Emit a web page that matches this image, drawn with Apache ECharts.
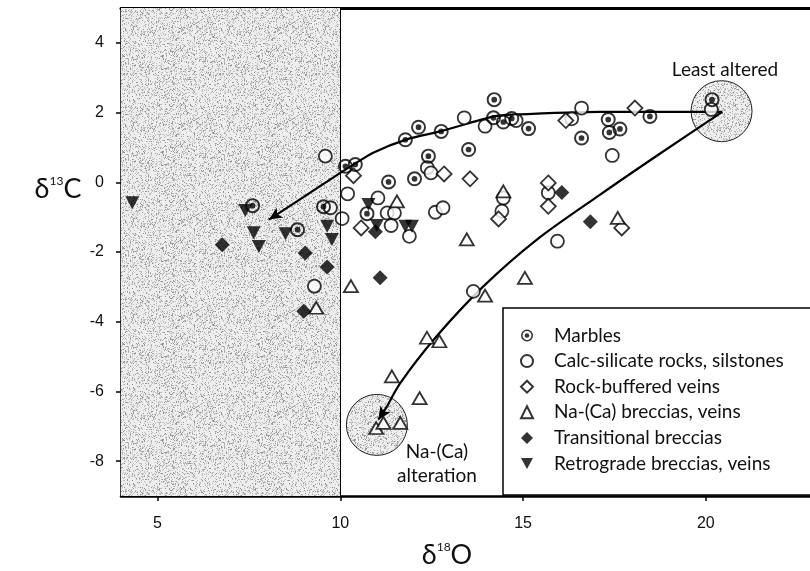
<!DOCTYPE html>
<html>
<head>
<meta charset="utf-8">
<script src="https://cdn.jsdelivr.net/npm/echarts@6/dist/echarts.min.js"></script>
<style>
  html, body { margin: 0; padding: 0; background: #fff; }
  #chart { width: 810px; height: 571px; }
</style>
</head>
<body>
<div id="chart"></div>
<script>
// δ18O / δ13C isotope data by rock type
const marbles = [
  [7.60,-0.67],[8.83,-1.36],[9.54,-0.70],[10.73,-0.90],[11.32,0.01],[12.03,0.10],
  [12.41,0.75],[10.14,0.46],[10.41,0.51],[11.78,1.22],[12.14,1.58],[12.76,1.46],
  [13.51,0.94],[14.21,2.37],[14.19,1.85],[14.46,1.73],[14.69,1.83],[15.15,1.54],
  [16.60,1.27],[17.33,1.80],[17.65,1.53],[17.36,1.43],[18.47,1.89],[20.17,2.37]
];
const calcSilicate = [
  [9.59,0.75],[9.73,-0.73],[10.20,-0.33],[11.03,-0.45],[10.05,-1.04],[11.28,-0.88],
  [11.48,-0.88],[11.39,-1.24],[11.89,-1.55],[12.60,-0.86],[12.81,-0.73],[12.38,0.42],
  [12.48,0.27],[13.39,1.85],[13.96,1.61],[14.46,-0.45],[14.42,-0.83],[15.69,-0.30],
  [15.94,-1.69],[16.60,2.13],[16.33,1.82],[17.44,0.77],[20.15,2.09],[9.29,-2.98],
  [13.64,-3.13],[14.81,1.77]
];
const rockBuffered = [
  [10.36,0.19],[12.84,0.24],[13.55,0.10],[10.57,-1.31],[14.33,-1.05],[15.69,-0.02],
  [15.69,-0.69],[16.17,1.77],[18.06,2.13],[17.70,-1.31]
];
const naCaBreccias = [
  [11.55,-0.55],[14.46,-0.26],[13.46,-1.64],[17.59,-1.02],[10.29,-2.98],[9.34,-3.60],
  [15.05,-2.74],[13.96,-3.25],[12.37,-4.46],[12.71,-4.56],[11.41,-5.57],[12.17,-6.19],
  [10.98,-7.05],[11.18,-6.90],[11.64,-6.90]
];
const transitional = [
  [6.77,-1.79],[9.04,-2.03],[9.64,-2.43],[9.00,-3.70],[10.96,-1.42],[11.09,-2.74],
  [16.06,-0.29],[16.84,-1.13]
];
const retrograde = [
  [4.31,-0.59],[7.40,-0.81],[7.63,-1.45],[7.77,-1.84],[8.50,-1.48],[9.64,-1.26],
  [9.77,-1.64],[10.77,-0.64],[11.00,-1.24],[11.78,-1.26],[11.96,-1.26]
];

// alteration trends (arrow tips kept separate)
const retroPath = [[20.45,2.02],[17.1,2.02],[14.7,1.94],[14.2,1.89],[12.73,1.46],
  [11.82,1.23],[10.9,0.85],[10.35,0.5],[10.0,0.27],[9.0,-0.42]];
const retroTip = [8.05,-1.07];
const nacaPath = [[20.45,2.02],[18.7,0.79],[17.1,-0.36],[15.37,-1.65],[13.92,-2.98],
  [12.6,-4.46],[11.64,-5.76],[11.28,-6.43]];
const nacaTip = [11.04,-6.81];

// end-member zones
const zoneCenters = [[20.43,2.04],[11.0,-6.96]];
const shadedRange = [4, 10];

const xTicks = [5, 10, 15, 20];
const yTicks = [-8, -6, -4, -2, 0, 2, 4];

const seriesNames = ['Marbles','Calc-silicate rocks, silstones','Rock-buffered veins',
  'Na-(Ca) breccias, veins','Transitional breccias','Retrograde breccias, veins'];

// stippled grey fill
function stipple() {
  const c = document.createElement('canvas');
  c.width = 96; c.height = 96;
  const g = c.getContext('2d');
  g.fillStyle = '#eeeeee';
  g.fillRect(0, 0, 96, 96);
  let s = 12345;
  for (let y = 0; y < 96; y++) {
    for (let x = 0; x < 96; x++) {
      s = (Math.imul(s, 1664525) + 1013904223) >>> 0;
      const r = s / 4294967296;
      if (r < 0.26) {
        g.fillStyle = r < 0.08 ? '#959595' : '#bdbdbd';
        g.fillRect(x, y, 1, 1);
      }
    }
  }
  return { image: c, repeat: 'repeat' };
}
const stip = stipple();

const marblePath = 'path://M0,10A10,10 0 1,1 20,10A10,10 0 1,1 0,10Z' +
  'M2.6,10A7.4,7.4 0 1,0 17.4,10A7.4,7.4 0 1,0 2.6,10Z' +
  'M6.2,10A3.8,3.8 0 1,1 13.8,10A3.8,3.8 0 1,1 6.2,10Z';
const downTri = 'path://M0,0L12,0L6,11Z';

const chart = echarts.init(document.getElementById('chart'), null, { renderer: 'canvas' });
const font = 'Lato';
const open = { color: '#fff', borderColor: '#000', borderWidth: 1.8 };
const solid = { color: '#000', borderWidth: 0 };

chart.setOption({
  animation: false,
  backgroundColor: '#fff',
  grid: { left: 121, top: 8, right: 0, bottom: 75 },
  xAxis: [{
    type: 'value', min: 4, max: 22.85,
    axisLine: { show: true, onZero: false, lineStyle: { color: '#000', width: 2.5 } },
    axisTick: { show: true, length: 5, lineStyle: { color: '#000', width: 1.5 }, customValues: xTicks },
    axisLabel: { customValues: xTicks, margin: 20, color: '#111', fontSize: 16, fontFamily: 'Liberation Sans' },
    splitLine: { show: false }
  }, {
    type: 'value', position: 'top', min: 4, max: 22.85,
    axisLine: { show: true, onZero: false, lineStyle: { color: '#000', width: 3 } },
    axisTick: { show: false }, axisLabel: { show: false }, splitLine: { show: false }
  }],
  yAxis: {
    type: 'value', min: -9, max: 5,
    axisLine: { show: true, onZero: false, lineStyle: { color: '#000', width: 1.5 } },
    axisTick: { show: true, length: 5, lineStyle: { color: '#000', width: 1.5 }, customValues: yTicks },
    axisLabel: { customValues: yTicks, margin: 17, color: '#111', fontSize: 16, fontFamily: 'Liberation Sans' },
    splitLine: { show: false }
  },
  legend: {
    orient: 'vertical', left: 503, top: 308,
    padding: [18, 60, 22, 17],
    itemGap: 6.6, itemWidth: 12, itemHeight: 12,
    backgroundColor: '#fff', borderColor: '#000', borderWidth: 1.5,
    textStyle: { fontFamily: font, fontSize: 19, color: '#111', padding: [0, 0, 0, 16] },
    data: [
      { name: seriesNames[0], icon: marblePath, itemStyle: { color: '#000', borderWidth: 0 } },
      { name: seriesNames[1], icon: 'circle', itemStyle: { color: '#fff', borderColor: '#000', borderWidth: 2 } },
      { name: seriesNames[2], icon: 'diamond', itemStyle: { color: '#fff', borderColor: '#000', borderWidth: 2 } },
      { name: seriesNames[3], icon: 'triangle', itemStyle: { color: '#fff', borderColor: '#000', borderWidth: 2 } },
      { name: seriesNames[4], icon: 'diamond', itemStyle: { color: '#000', borderWidth: 0 } },
      { name: seriesNames[5], icon: downTri, itemStyle: { color: '#000', borderWidth: 0 } }
    ]
  },
  graphic: [
    { type: 'text', x: 58, y: 189, style: {
      text: '{d|δ}{s|13}{d|C}', align: 'center', verticalAlign: 'middle',
      rich: { d: { fontFamily: font, fontSize: 27, fill: '#111' },
              s: { fontFamily: font, fontSize: 12, fill: '#111', verticalAlign: 'top' } } } },
    { type: 'text', x: 447, y: 555, style: {
      text: '{d|δ}{s|18}{d|O}', align: 'center', verticalAlign: 'middle',
      rich: { d: { fontFamily: font, fontSize: 27, fill: '#111' },
              s: { fontFamily: font, fontSize: 12, fill: '#111', verticalAlign: 'top' } } } },
    { type: 'text', x: 725, y: 70, style: { text: 'Least altered', font: '19px ' + font, fill: '#111', align: 'center', verticalAlign: 'middle' } },
    { type: 'text', x: 210, y: 280, style: { text: 'Retrograde\nalteration', font: '19px ' + font, lineHeight: 24, fill: '#111', align: 'center', verticalAlign: 'middle' } },
    { type: 'text', x: 437, y: 464, style: { text: 'Na-(Ca)\nalteration', font: '19px ' + font, lineHeight: 24, fill: '#111', align: 'center', verticalAlign: 'middle' } }
  ],
  series: [
    {
      name: 'zones', type: 'custom', data: zoneCenters, silent: true, z: 1,
      encode: { x: 0, y: 1 },
      renderItem: function (params, api) {
        const p = api.coord([api.value(0), api.value(1)]);
        return {
          type: 'circle',
          shape: { cx: p[0], cy: p[1], r: 30.5 },
          style: { fill: stip, stroke: '#222', lineWidth: 1 }
        };
      },
      markArea: {
        silent: true,
        itemStyle: { color: stip, borderWidth: 0 },
        data: [[{ xAxis: shadedRange[0] }, { xAxis: shadedRange[1] }]]
      },
      markLine: {
        silent: true, symbol: ['none', 'none'], label: { show: false },
        lineStyle: { color: '#000', width: 1, type: 'solid' },
        data: [{ xAxis: shadedRange[1] }]
      }
    },
    {
      name: 'retro-trend', type: 'line', data: retroPath, smooth: 0.25, showSymbol: false,
      silent: true, z: 3, lineStyle: { color: '#000', width: 2.2 },
      markLine: {
        silent: true, symbol: ['none', 'arrow'], symbolSize: [9, 13], label: { show: false },
        lineStyle: { color: '#000', width: 2.2, type: 'solid' },
        data: [[{ coord: retroPath[retroPath.length - 1] }, { coord: retroTip }]]
      }
    },
    {
      name: 'naca-trend', type: 'line', data: nacaPath, smooth: 0.3, showSymbol: false,
      silent: true, z: 3, lineStyle: { color: '#000', width: 2.2 },
      markLine: {
        silent: true, symbol: ['none', 'arrow'], symbolSize: [9, 13], label: { show: false },
        lineStyle: { color: '#000', width: 2.2, type: 'solid' },
        data: [[{ coord: nacaPath[nacaPath.length - 1] }, { coord: nacaTip }]]
      }
    },
    { name: seriesNames[1], type: 'scatter', data: calcSilicate, symbol: 'circle', symbolSize: 13, z: 4, itemStyle: open },
    { name: seriesNames[2], type: 'scatter', data: rockBuffered, symbol: 'diamond', symbolSize: 15, z: 4, itemStyle: open },
    { name: seriesNames[3], type: 'scatter', data: naCaBreccias, symbol: 'triangle', symbolSize: [14, 12], z: 4, itemStyle: open },
    { name: seriesNames[4], type: 'scatter', data: transitional, symbol: 'diamond', symbolSize: 15, z: 4, itemStyle: solid },
    { name: seriesNames[5], type: 'scatter', data: retrograde, symbol: downTri, symbolSize: [14, 13], z: 4, itemStyle: solid },
    { name: seriesNames[0], type: 'scatter', data: marbles, symbol: marblePath, symbolSize: 15, z: 5, itemStyle: solid }
  ]
});
</script>
</body>
</html>
